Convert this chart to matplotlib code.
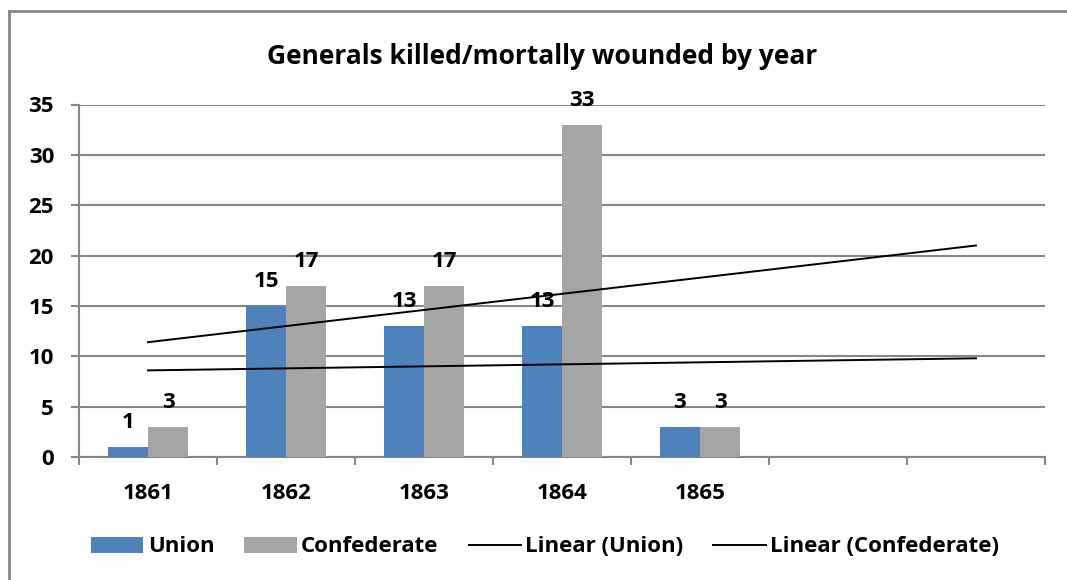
import numpy as np
import matplotlib.pyplot as plt
from matplotlib.lines import Line2D

plt.rcParams['font.family'] = ['Open Sans', 'DejaVu Sans']
plt.rcParams['font.weight'] = 'bold'

years = ['1861', '1862', '1863', '1864', '1865', '', '']
union = [1, 15, 13, 13, 3]
confederate = [3, 17, 17, 33, 3]

blue = '#4F81BD'
grey = '#A5A5A5'
line_grey = '#868686'
fs = 16

fig = plt.figure(figsize=(10.67, 5.8), dpi=100)
ax = fig.add_axes([79 / 1067, 1 - 457 / 580, (1045 - 79) / 1067, (457 - 104.5) / 580])

n = len(union)
x = np.arange(n)
w = 0.29
ax.bar(x - w / 2, union, w, color=blue, label='Union', zorder=3)
ax.bar(x + w / 2, confederate, w, color=grey, label='Confederate', zorder=3)

for xi, v in zip(x - w / 2, union):
    ax.annotate(str(v), (xi, v), xytext=(0, 10), textcoords='offset points',
                ha='center', va='bottom', fontsize=fs, fontweight='bold')
for xi, v in zip(x + w / 2, confederate):
    ax.annotate(str(v), (xi, v), xytext=(0, 10), textcoords='offset points',
                ha='center', va='bottom', fontsize=fs, fontweight='bold')

# linear trendlines, forecast forward two periods like excel
xt = np.arange(len(years))
for data, lab in [(union, 'Linear (Union)'), (confederate, 'Linear (Confederate)')]:
    k, b = np.polyfit(x, data, 1)
    ax.plot(xt, k * xt + b, color='black', lw=1.4, label=lab, zorder=4)

ax.set_xlim(-0.5, len(years) - 0.5)
ax.set_ylim(0, 35)
ax.set_yticks(range(0, 36, 5))
ax.set_xticks(xt)
ax.set_xticklabels(years)
ax.set_xticks(np.arange(-0.5, len(years), 1), minor=True)
ax.tick_params(axis='x', which='major', length=0, pad=19, labelsize=fs)
ax.tick_params(axis='x', which='minor', length=6, width=1.5, color=line_grey)
ax.tick_params(axis='y', length=6, width=1.5, color=line_grey, pad=12, labelsize=fs)
for t in ax.get_xticklabels() + ax.get_yticklabels():
    t.set_fontweight('bold')

ax.grid(axis='y', color=line_grey, lw=1.5, zorder=0)
for s in ['top', 'right']:
    ax.spines[s].set_visible(False)
for s in ['left', 'bottom']:
    ax.spines[s].set_color(line_grey)
    ax.spines[s].set_linewidth(1.5)

fig.text(542 / 1067, 1 - 57 / 580, 'Generals killed/mortally wounded by year',
         ha='center', va='center', fontsize=19, fontweight='bold')

handles, labels = ax.get_legend_handles_labels()
order = [2, 3, 0, 1]
fig.legend([handles[i] for i in order], [labels[i] for i in order],
           loc='center', bbox_to_anchor=(545 / 1067, 1 - 547 / 580), ncol=4,
           frameon=False, fontsize=fs, handlelength=2.35, handleheight=0.75,
           handletextpad=0.2, columnspacing=1.35)

# chart area border (only top and left visible)
fig.add_artist(Line2D([9 / 1067, 1], [1 - 11 / 580] * 2, color=line_grey, lw=2))
fig.add_artist(Line2D([9 / 1067] * 2, [0, 1 - 11 / 580], color=line_grey, lw=2))

fig.savefig('out.png', dpi=100)
